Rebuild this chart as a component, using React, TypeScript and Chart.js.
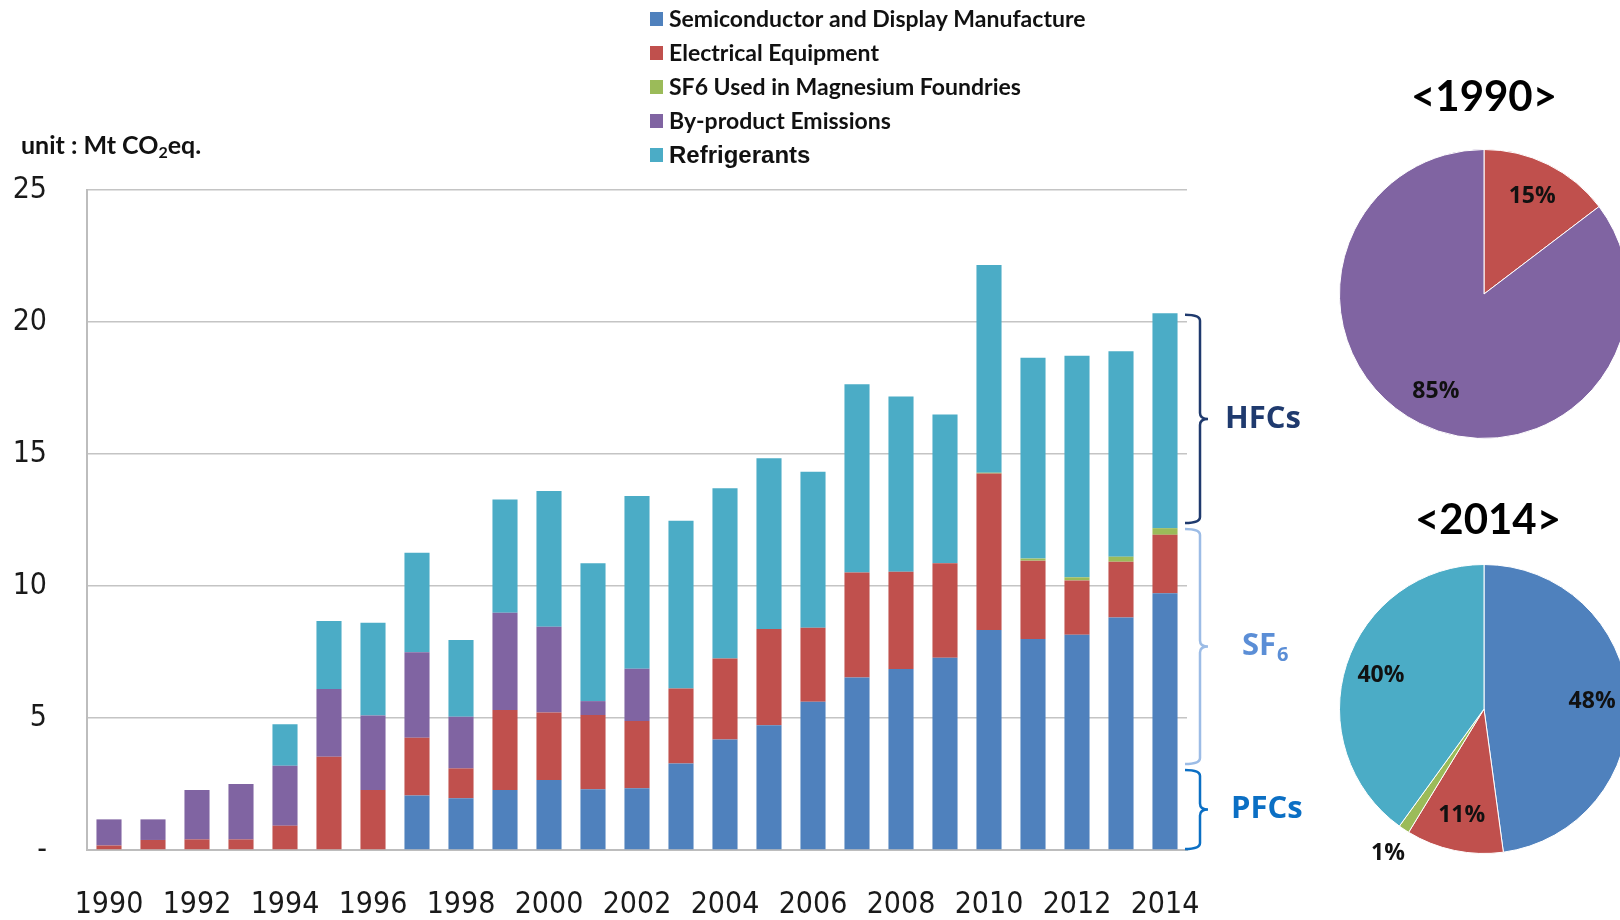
import React, { useEffect, useRef } from 'react';
import { Chart, registerables } from 'chart.js';
Chart.register(...registerables);

const years = ['1990','1991','1992','1993','1994','1995','1996','1997','1998','1999','2000','2001','2002','2003','2004','2005','2006','2007','2008','2009','2010','2011','2012','2013','2014'];
const seriesNames = ['Semiconductor and Display Manufacture','Electrical Equipment','SF6 Used in Magnesium Foundries','By-product Emissions','Refrigerants'];
const seriesColors = ['#4F81BD','#C0504D','#9BBB59','#8064A2','#4BACC6'];
const semiconductor = [0,0,0,0,0,0,0,2.06,1.96,2.27,2.65,2.30,2.34,3.28,4.19,4.73,5.62,6.53,6.86,7.28,8.33,7.99,8.15,8.81,9.73];
const electrical = [0.17,0.38,0.40,0.40,0.92,3.53,2.27,2.19,1.13,3.03,2.56,2.81,2.55,2.84,3.06,3.64,2.80,3.98,3.68,3.58,5.93,2.97,2.06,2.11,2.21];
const magnesium = [0,0,0,0,0,0,0,0,0,0,0,0,0,0,0,0,0,0,0,0,0.03,0.08,0.12,0.19,0.25];
const byproduct = [0.99,0.78,1.87,2.10,2.27,2.57,2.82,3.24,1.96,3.69,3.25,0.53,1.98,0,0,0,0,0,0,0,0,0,0,0,0];
const refrigerants = [0,0,0,0,1.57,2.57,3.52,3.77,2.90,4.29,5.14,5.22,6.54,6.35,6.45,6.47,5.91,7.13,6.64,5.64,7.87,7.61,8.39,7.78,8.14];
const seriesValues = [semiconductor, electrical, magnesium, byproduct, refrigerants];
const yTickValues = [0, 5, 10, 15, 20, 25];
const yTickLabels = ['-', '5', '10', '15', '20', '25'];
const xTickLabels = years.map((y, i) => (i % 2 === 0 ? y : ''));
const groupNames = ['HFCs', 'SF', 'PFCs'];
const groupRanges = [[20.27, 12.39], [12.16, 3.26], [3.03, 0.04]];

const NARROW = '"Liberation Sans Narrow", "Arial Narrow", "DejaVu Sans Condensed", "Liberation Sans", sans-serif';
const HUMAN = 'Lato, "Open Sans", "Liberation Sans", sans-serif';

function brace(ctx: CanvasRenderingContext2D, x0: number, xv: number, xt: number, yTop: number, yBot: number) {
  const ym = (yTop + yBot) / 2;
  const r = 6;
  ctx.beginPath();
  ctx.moveTo(x0, yTop);
  ctx.quadraticCurveTo(xv, yTop, xv, yTop + r);
  ctx.lineTo(xv, ym - r);
  ctx.quadraticCurveTo(xv, ym, xt, ym);
  ctx.quadraticCurveTo(xv, ym, xv, ym + r);
  ctx.lineTo(xv, yBot - r);
  ctx.quadraticCurveTo(xv, yBot, x0, yBot);
  ctx.stroke();
}

const barDecor = {
  id: 'barDecor',
  afterDraw(chart: any) {
    const ctx: CanvasRenderingContext2D = chart.ctx;
    ctx.save();
    // legend
    ctx.textBaseline = 'middle';
    ctx.textAlign = 'left';
    chart.data.datasets.forEach((ds: any, i: number) => {
      const y = 19 + i * 34;
      ctx.fillStyle = ds.backgroundColor;
      ctx.fillRect(650, y - 7, 13, 14);
      ctx.fillStyle = '#111';
      ctx.font = i === 4 ? 'bold 24px "Liberation Sans", Arial, sans-serif' : 'bold 23px ' + HUMAN;
      ctx.fillText(ds.label, 669, y + 1);
    });
    // unit label
    ctx.fillStyle = '#111';
    ctx.font = 'bold 25px ' + HUMAN;
    let x = 21;
    const uy = 146;
    const t1 = 'unit : Mt CO';
    ctx.fillText(t1, x, uy);
    x += ctx.measureText(t1).width;
    ctx.font = 'bold 16px ' + HUMAN;
    ctx.fillText('2', x, uy + 7);
    x += ctx.measureText('2').width;
    ctx.font = 'bold 25px ' + HUMAN;
    ctx.fillText('eq.', x, uy);
    // braces
    const ys = chart.scales.y;
    const right = chart.chartArea.right;
    const colors = ['#1F3A6E', '#9CBCE6', '#0B6FC4'];
    const textColors = ['#1F3A6E', '#5B8ED6', '#0B6FC4'];
    const textX = [1225, 1242, 1231];
    groupRanges.forEach((rg, i) => {
      const yTop = ys.getPixelForValue(rg[0]);
      const yBot = ys.getPixelForValue(rg[1]);
      ctx.strokeStyle = colors[i];
      ctx.lineWidth = 2.5;
      brace(ctx, right - 2, right + 13, right + 21, yTop, yBot);
      const ym = (yTop + yBot) / 2;
      ctx.fillStyle = textColors[i];
      ctx.font = 'bold 31px "Open Sans", ' + HUMAN;
      ctx.textBaseline = 'middle';
      ctx.fillText(groupNames[i], textX[i], ym);
      if (i === 1) {
        const w = ctx.measureText(groupNames[i]).width;
        ctx.font = 'bold 20px "Open Sans", ' + HUMAN;
        ctx.fillText('6', textX[i] + w + 1, ym + 9);
      }
    });
    ctx.restore();
  },
};

function BarChart() {
  const ref = useRef<HTMLCanvasElement>(null);
  useEffect(() => {
    const chart = new Chart(ref.current as HTMLCanvasElement, {
      type: 'bar',
      data: {
        labels: years,
        datasets: seriesNames.map((n, i) => ({
          label: n,
          data: seriesValues[i],
          backgroundColor: seriesColors[i],
          borderWidth: 0,
          barPercentage: 0.57,
          categoryPercentage: 1,
        })),
      },
      options: {
        animation: false,
        responsive: false,
        layout: { padding: { top: 190, right: 133, left: 0, bottom: 0 } },
        plugins: { legend: { display: false }, tooltip: { enabled: false }, title: { display: false } },
        scales: {
          x: {
            stacked: true,
            grid: { display: false, drawTicks: false },
            border: { display: true, color: '#BDBDBD', width: 2 },
            ticks: {
              autoSkip: false,
              maxRotation: 0,
              padding: 37,
              color: '#1a1a1a',
              font: { family: NARROW, size: 30 },
              callback: (_v: any, i: number) => xTickLabels[i],
            },
            afterFit: (s: any) => { s.height = 70; },
          },
          y: {
            stacked: true,
            min: 0,
            max: 25,
            afterBuildTicks: (s: any) => { s.ticks = yTickValues.map((v) => ({ value: v })); },
            ticks: {
              padding: 40,
              color: '#1a1a1a',
              font: { family: NARROW, size: 30 },
              callback: (v: any) => yTickLabels[yTickValues.indexOf(Number(v))],
            },
            grid: { color: '#C4C4C4', lineWidth: 1.5, drawTicks: false },
            border: { display: true, color: '#BDBDBD', width: 2 },
            afterFit: (s: any) => { s.width = 87; },
          },
        },
      },
      plugins: [barDecor],
    } as any);
    return () => chart.destroy();
  }, []);
  return <canvas ref={ref} width={1320} height={920} style={{ position: 'absolute', left: 0, top: 0 }} />;
}

const pieDecor = {
  id: 'pieDecor',
  afterDraw(chart: any) {
    const ctx: CanvasRenderingContext2D = chart.ctx;
    const meta = chart.getDatasetMeta(0);
    const data: number[] = chart.data.datasets[0].data;
    const total = data.reduce((a, b) => a + b, 0);
    ctx.save();
    ctx.textAlign = 'center';
    ctx.textBaseline = 'middle';
    let cx = 0, cy = 0, R = 0;
    meta.data.forEach((arc: any, i: number) => {
      const p = arc.getProps(['x', 'y', 'startAngle', 'endAngle', 'outerRadius'], true);
      cx = p.x; cy = p.y; R = p.outerRadius;
      if (!data[i]) return;
      const pct = (data[i] / total) * 100;
      const mid = (p.startAngle + p.endAngle) / 2;
      const rr = p.outerRadius * (pct < 5 ? 1.2 : 0.75);
      ctx.fillStyle = '#111';
      ctx.font = 'bold 23px "Open Sans", Lato, sans-serif';
      ctx.fillText(Math.round(pct) + '%', p.x + Math.cos(mid) * rr, p.y + Math.sin(mid) * rr);
    });
    const opts = chart.options.plugins.pieDecor;
    ctx.font = 'bold 42px ' + HUMAN;
    ctx.fillStyle = '#000';
    ctx.fillText(opts.title, cx + opts.dx, cy - R - opts.gap);
    ctx.restore();
  },
};

function PieChart({ index, cx, cy, gap, dx }: { index: number; cx: number; cy: number; gap: number; dx: number }) {
  const ref = useRef<HTMLCanvasElement>(null);
  const R = 145;
  const pad = 40;
  const top = 120;
  const W = 2 * (R + pad);
  const H = 2 * R + pad + top;
  useEffect(() => {
    const chart = new Chart(ref.current as HTMLCanvasElement, {
      type: 'pie',
      data: {
        labels: seriesNames,
        datasets: [{
          data: seriesValues.map((s) => s[index]),
          backgroundColor: seriesColors,
          borderColor: '#ffffff',
          borderWidth: 1,
        }],
      },
      options: {
        animation: false,
        responsive: false,
        layout: { padding: { top: top, left: pad, right: pad, bottom: pad } },
        plugins: {
          legend: { display: false },
          tooltip: { enabled: false },
          pieDecor: { title: '<' + years[index] + '>', gap, dx },
        },
      },
      plugins: [pieDecor],
    } as any);
    return () => chart.destroy();
  }, []);
  return (
    <canvas
      ref={ref}
      width={W}
      height={H}
      style={{ position: 'absolute', left: cx - W / 2, top: cy - R - top }}
    />
  );
}

export default function App() {
  return (
    <div style={{ position: 'fixed', left: 0, top: 0, width: 1620, height: 920, overflow: 'hidden', background: '#fff' }}>
      <BarChart />
      <PieChart index={0} cx={1484} cy={294} gap={52} dx={0} />
      <PieChart index={24} cx={1484} cy={709} gap={44} dx={4} />
    </div>
  );
}
